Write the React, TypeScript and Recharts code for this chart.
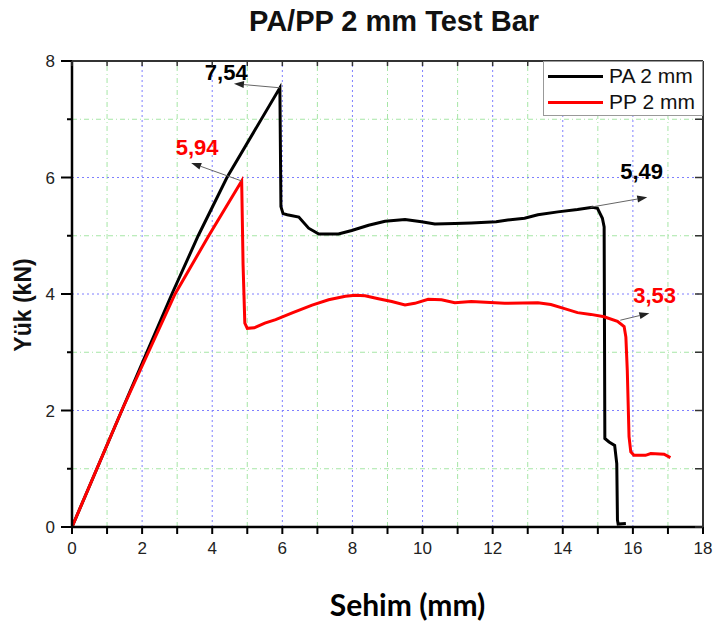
import React from "react";
import {
  LineChart,
  Line,
  XAxis,
  YAxis,
  ReferenceLine,
  ReferenceDot,
} from "recharts";

// PA 2 mm curve (deflection mm, load kN)
const paX = [
  0, 1.42, 2.85, 3.6, 4.42, 5.93, 5.96, 6.02, 6.14, 6.47, 6.75, 7.04, 7.6,
  7.98, 8.46, 8.93, 9.5, 9.97, 10.35, 10.92, 11.39, 12.1, 12.43, 12.91, 13.29,
  13.86, 14.42, 14.85, 14.99, 15.13, 15.18, 15.2, 15.32, 15.48, 15.54, 15.56,
  15.58, 15.8,
];
const paY = [
  0, 2, 4, 5, 6, 7.54, 5.5, 5.38, 5.36, 5.32, 5.13, 5.03, 5.03, 5.09, 5.18,
  5.25, 5.28, 5.24, 5.2, 5.21, 5.22, 5.24, 5.27, 5.3, 5.36, 5.41, 5.45, 5.49,
  5.47, 5.3, 5.15, 1.52, 1.46, 1.4, 1.09, 0.12, 0.05, 0.06,
];

// PP 2 mm curve
const ppX = [
  0, 1.42, 2.94, 3.9, 4.84, 4.88, 4.93, 5.0, 5.2, 5.5, 5.81, 6.3, 6.85, 7.32,
  7.8, 8.08, 8.36, 8.74, 9.12, 9.5, 9.78, 10.16, 10.54, 10.92, 11.39, 12.34,
  13.29, 13.66, 14.05, 14.42, 14.8, 15.18, 15.56, 15.75, 15.8, 15.84, 15.89,
  15.94, 16.03, 16.36, 16.51, 16.89, 17.07,
];
const ppY = [
  0, 2, 4, 5, 5.94, 4.5, 3.5, 3.41, 3.42, 3.5, 3.56, 3.68, 3.81, 3.9, 3.96,
  3.98, 3.97, 3.92, 3.87, 3.81, 3.84, 3.91, 3.9, 3.85, 3.87, 3.84, 3.85, 3.82,
  3.75, 3.68, 3.65, 3.61, 3.53, 3.44, 3.26, 2.69, 1.55, 1.29, 1.23, 1.23, 1.26,
  1.25, 1.19,
];

const xTicks = [0, 1, 2, 3, 4, 5, 6, 7, 8, 9, 10, 11, 12, 13, 14, 15, 16, 17, 18];
const yTicks = [0, 1, 2, 3, 4, 5, 6, 7, 8];
const majorX = [2, 4, 6, 8, 10, 12, 14, 16];
const minorX = [1, 3, 5, 7, 9, 11, 13, 15, 17];
const majorY = [2, 4, 6];
const minorY = [1, 3, 5, 7];

const seriesNames = ["PA 2 mm", "PP 2 mm"];
const seriesColors = ["#000000", "#ff0000"];

// peak value notes: point on curve, arrow tip, label centre
const notes = [
  { text: "7,54", color: "#000", from: [5.93, 7.54], to: [4.62, 7.61], at: [4.4, 7.81] },
  { text: "5,94", color: "#ff0000", from: [4.84, 5.94], to: [3.4, 6.25], at: [3.57, 6.52] },
  { text: "5,49", color: "#000", from: [14.79, 5.49], to: [16.41, 5.66], at: [16.25, 6.11] },
  { text: "3,53", color: "#ff0000", from: [15.64, 3.55], to: [16.47, 3.67], at: [16.62, 3.98] },
];

const paData = paX.map((x, i) => ({ x, y: paY[i] }));
const ppData = ppX.map((x, i) => ({ x, y: ppY[i] }));

const FONT = "'Liberation Sans', Arial, sans-serif";

// chart layout
const W = 714;
const H = 626;
const M = { top: 61, right: 11, left: 0, bottom: 0 };
const Y_AXIS_W = 72;
const X_AXIS_H = 99;
const plotL = M.left + Y_AXIS_W;
const plotR = W - M.right;
const plotT = M.top;
const plotB = H - M.bottom - X_AXIS_H;

const Arrow = (props: any) => {
  const { x1, y1, x2, y2 } = props;
  const a = Math.atan2(y2 - y1, x2 - x1);
  const len = 10;
  const half = 3.5;
  const bx = x2 - len * Math.cos(a);
  const by = y2 - len * Math.sin(a);
  const pts = `${x2},${y2} ${bx - half * Math.sin(a)},${by + half * Math.cos(a)} ${bx + half * Math.sin(a)},${by - half * Math.cos(a)}`;
  return (
    <g>
      <line x1={x1} y1={y1} x2={bx} y2={by} stroke="#666" strokeWidth={1} />
      <polygon points={pts} fill="#222" />
    </g>
  );
};

const XTick = (props: any) => {
  const { x, y, payload } = props;
  if (payload.value % 2 !== 0) return null;
  return (
    <text x={x} y={y} dy="0.75em" textAnchor="middle" fontFamily={FONT} fontSize={17} fill="#222">
      {payload.value}
    </text>
  );
};

const YTick = (props: any) => {
  const { x, y, payload } = props;
  const axisX = x + 17;
  const major = payload.value % 2 === 0;
  return (
    <g>
      <line x1={axisX} x2={axisX - (major ? 11 : 5)} y1={y} y2={y} stroke="#000" strokeWidth={2} />
      {major && (
        <text x={x} y={y} dy="0.36em" textAnchor="end" fontFamily={FONT} fontSize={17} fill="#222">
          {payload.value}
        </text>
      )}
    </g>
  );
};

// top and right edges of the frame, ticks pointing inward
const Frame = () => {
  const xMax = xTicks[xTicks.length - 1];
  const yMax = yTicks[yTicks.length - 1];
  const px = (v: number) => plotL + ((plotR - plotL) * v) / xMax;
  const py = (v: number) => plotB - ((plotB - plotT) * v) / yMax;
  return (
    <svg
      width={W}
      height={H}
      style={{ position: "absolute", left: 0, top: 0, pointerEvents: "none" }}
    >
      <line x1={plotL} x2={plotR} y1={plotT} y2={plotT} stroke="#333" strokeWidth={2} />
      <line x1={plotR} x2={plotR} y1={plotT} y2={plotB} stroke="#333" strokeWidth={2} />
      {xTicks.map((v) => (
        <line key={"t" + v} x1={px(v)} x2={px(v)} y1={plotT} y2={plotT + 5} stroke="#333" strokeWidth={1.5} />
      ))}
      {yTicks.map((v) => (
        <line key={"r" + v} x1={plotR} x2={plotR - 8} y1={py(v)} y2={py(v)} stroke="#333" strokeWidth={1.5} />
      ))}
    </svg>
  );
};

const LegendBox = () => (
  <div
    style={{
      position: "absolute",
      top: 61,
      left: 543,
      width: 160,
      height: 55,
      border: "1px solid #999",
      background: "#fff",
      boxSizing: "border-box",
      fontFamily: FONT,
      fontSize: 21,
      color: "#111",
      paddingTop: 1,
    }}
  >
    {seriesNames.map((n, i) => (
      <div key={n} style={{ display: "flex", alignItems: "center", height: 26, paddingLeft: 4 }}>
        <div style={{ width: 55, height: 3, background: seriesColors[i], marginRight: 6 }} />
        <span>{n}</span>
      </div>
    ))}
  </div>
);

export default function App() {
  return (
    <div style={{ position: "absolute", left: 0, top: 0, width: W, height: H, background: "#fff" }}>
      <div
        style={{
          position: "absolute",
          top: 4,
          left: 394,
          transform: "translateX(-50%)",
          whiteSpace: "nowrap",
          fontFamily: FONT,
          fontWeight: 700,
          fontSize: 29,
          lineHeight: "34px",
          color: "#111",
        }}
      >
        PA/PP 2 mm Test Bar
      </div>
      <LineChart width={W} height={H} margin={M}>
        {majorX.map((v) => (
          <ReferenceLine key={"mx" + v} x={v} stroke="#7f7fff" strokeDasharray="2 3" strokeWidth={1} />
        ))}
        {minorX.map((v) => (
          <ReferenceLine key={"nx" + v} x={v} stroke="#a6e6a6" strokeDasharray="5 3 1 3" strokeWidth={1} />
        ))}
        {majorY.map((v) => (
          <ReferenceLine key={"my" + v} y={v} stroke="#7f7fff" strokeDasharray="2 3" strokeWidth={1} />
        ))}
        {minorY.map((v) => (
          <ReferenceLine key={"ny" + v} y={v} stroke="#a6e6a6" strokeDasharray="5 3 1 3" strokeWidth={1} />
        ))}
        <XAxis
          dataKey="x"
          type="number"
          domain={[0, 18]}
          ticks={xTicks}
          interval={0}
          allowDataOverflow
          height={X_AXIS_H}
          tickSize={7}
          tickMargin={7}
          tick={<XTick />}
          axisLine={{ stroke: "#000", strokeWidth: 2.5 }}
          tickLine={{ stroke: "#000", strokeWidth: 2 }}
          label={{
            value: "Sehim (mm)",
            position: "insideBottom",
            offset: 10,
            dx: 20,
            style: { fontFamily: "Lato, 'Open Sans', sans-serif", fontWeight: 700, fontSize: 30, fill: "#000" },
          }}
        />
        <YAxis
          type="number"
          domain={[0, 8]}
          ticks={yTicks}
          interval={0}
          allowDataOverflow
          width={Y_AXIS_W}
          tickSize={10}
          tickMargin={7}
          tickLine={false}
          tick={<YTick />}
          axisLine={{ stroke: "#000", strokeWidth: 2.5 }}
          label={{
            value: "Yük (kN)",
            angle: -90,
            position: "center",
            dx: -13,
            dy: 11,
            style: { fontFamily: FONT, fontWeight: 700, fontSize: 23, fill: "#111" },
          }}
        />
        <Line
          data={paData}
          dataKey="y"
          name={seriesNames[0]}
          type="linear"
          stroke={seriesColors[0]}
          strokeWidth={3}
          dot={false}
          isAnimationActive={false}
        />
        <Line
          data={ppData}
          dataKey="y"
          name={seriesNames[1]}
          type="linear"
          stroke={seriesColors[1]}
          strokeWidth={3}
          dot={false}
          isAnimationActive={false}
        />
        {notes.map((n) => (
          <ReferenceLine
            key={"a" + n.text}
            segment={[
              { x: n.from[0], y: n.from[1] },
              { x: n.to[0], y: n.to[1] },
            ]}
            shape={<Arrow />}
          />
        ))}
        {notes.map((n) => (
          <ReferenceDot
            key={"t" + n.text}
            x={n.at[0]}
            y={n.at[1]}
            r={0}
            shape={(p: any) => (
              <text
                x={p.cx}
                y={p.cy}
                dy="0.36em"
                textAnchor="middle"
                fontFamily={FONT}
                fontWeight={700}
                fontSize={22}
                fill={n.color}
              >
                {n.text}
              </text>
            )}
          />
        ))}
      </LineChart>
      <Frame />
      <LegendBox />
    </div>
  );
}
